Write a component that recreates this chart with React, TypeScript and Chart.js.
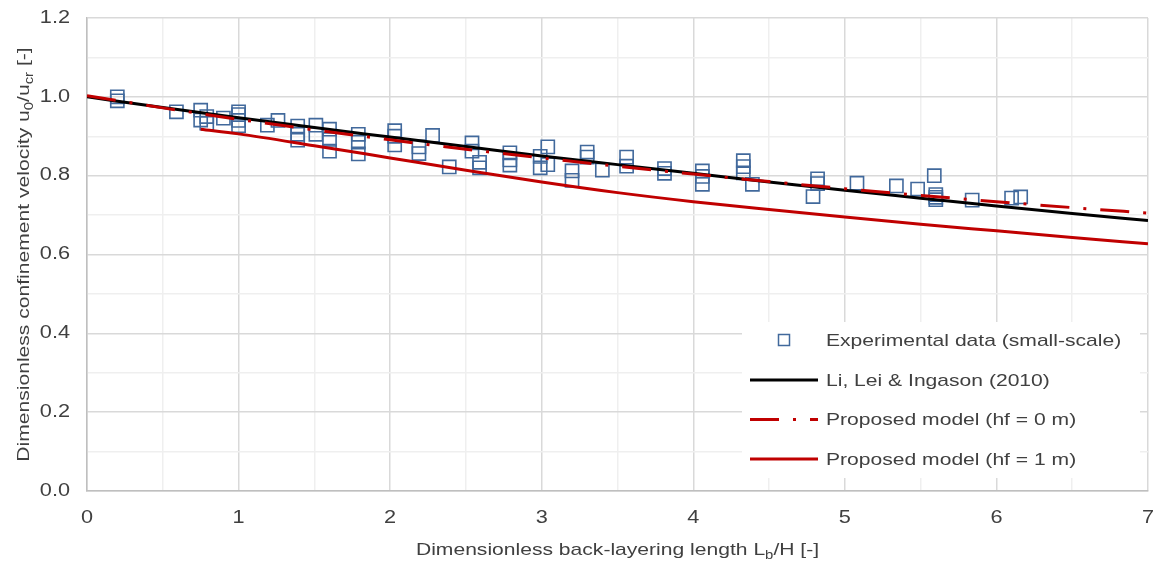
import React, { useEffect, useRef } from "react";
import { Chart, registerables } from "chart.js";

Chart.register(...registerables);

// Experimental data (small-scale): back-layering length L_b/H and confinement velocity u0/ucr
const expX = [
  0.2, 0.2, 0.59, 0.75, 0.75, 0.79, 0.79, 0.9, 1.0, 1.0, 1.0, 1.0,
  1.19, 1.26, 1.39, 1.39, 1.39, 1.51, 1.51, 1.6, 1.6, 1.6, 1.79, 1.79, 1.79,
  2.03, 2.03, 2.03, 2.19, 2.19, 2.28, 2.39, 2.54, 2.54, 2.59, 2.59,
  2.79, 2.79, 2.79, 2.99, 2.99, 3.04, 3.04, 3.2, 3.2, 3.3, 3.3, 3.4,
  3.56, 3.56, 3.81, 3.81, 4.06, 4.06, 4.06, 4.33, 4.33, 4.33, 4.39,
  4.79, 4.82, 4.82, 5.08, 5.34, 5.48, 5.59, 5.6, 5.6, 5.6, 5.84, 6.1, 6.16,
];
const expY = [
  1.0, 0.99, 0.962, 0.966, 0.941, 0.95, 0.933, 0.946, 0.962, 0.955, 0.94, 0.927,
  0.928, 0.94, 0.926, 0.905, 0.89, 0.928, 0.905, 0.918, 0.892, 0.862, 0.905, 0.885, 0.855,
  0.914, 0.9, 0.878, 0.873, 0.856, 0.902, 0.822, 0.883, 0.862, 0.834, 0.82,
  0.858, 0.84, 0.827, 0.849, 0.82, 0.873, 0.828, 0.812, 0.788, 0.86, 0.847, 0.814,
  0.847, 0.824, 0.818, 0.806, 0.812, 0.798, 0.778, 0.838, 0.823, 0.807, 0.778,
  0.747, 0.792, 0.78, 0.781, 0.774, 0.766, 0.8, 0.752, 0.745, 0.739, 0.738, 0.743, 0.746,
];

// Model curves, sampled along L_b/H
const modelX = [0, 0.5, 1, 1.5, 2, 2.5, 3, 3.5, 4, 4.5, 5, 5.5, 6, 6.5, 7];
const liLeiIngason = [1.0, 0.973, 0.947, 0.922, 0.898, 0.874, 0.85, 0.828, 0.806, 0.784, 0.763, 0.743, 0.723, 0.704, 0.686];
const proposedHf0 = [1.003, 0.972, 0.943, 0.916, 0.891, 0.867, 0.845, 0.824, 0.804, 0.785, 0.767, 0.75, 0.734, 0.719, 0.705];

const hf1X = [0.75, 1, 1.5, 2, 2.5, 3, 3.5, 4, 4.5, 5, 5.5, 6, 6.5, 7];
const proposedHf1 = [0.918, 0.906, 0.876, 0.845, 0.814, 0.784, 0.757, 0.734, 0.714, 0.695, 0.677, 0.66, 0.643, 0.627];

// Axis tick labels
const xTickLabels = ["0", "1", "2", "3", "4", "5", "6", "7"];
const yTickLabels = ["0.0", "0.2", "0.4", "0.6", "0.8", "1.0", "1.2"];

const legendLabels = [
  "Experimental data (small-scale)",
  "Li, Lei & Ingason (2010)",
  "Proposed model (hf = 0 m)",
  "Proposed model (hf = 1 m)",
];

const FONT = "'Liberation Sans', Arial, sans-serif";
const TEXT = "#404040";
const BLUE = "#41699c";
const RED = "#c00000";
const DASH_DOT = [29, 14, 3, 14];
const SIZE = 17;
const SUB = 12;
const SX = 1.24; // horizontal stretch of the lettering

type Seg = { t: string; sub?: boolean };

function segWidth(ctx: CanvasRenderingContext2D, segs: Seg[]) {
  let w = 0;
  for (const s of segs) {
    ctx.font = `${s.sub ? SUB : SIZE}px ${FONT}`;
    w += ctx.measureText(s.t).width;
  }
  return w;
}

// Draws text runs with subscripts in a frame already scaled by SX
function drawSegs(ctx: CanvasRenderingContext2D, segs: Seg[], x: number, y: number) {
  let cx = x;
  ctx.textBaseline = "alphabetic";
  ctx.textAlign = "left";
  for (const s of segs) {
    ctx.font = `${s.sub ? SUB : SIZE}px ${FONT}`;
    ctx.fillText(s.t, cx, s.sub ? y + 4 : y);
    cx += ctx.measureText(s.t).width;
  }
}

function stretchedText(
  ctx: CanvasRenderingContext2D,
  text: string,
  x: number,
  y: number,
  align: CanvasTextAlign,
  size = SIZE
) {
  ctx.save();
  ctx.translate(x, y);
  ctx.scale(SX, 1);
  ctx.font = `${size}px ${FONT}`;
  ctx.textAlign = align;
  ctx.textBaseline = "middle";
  ctx.fillText(text, 0, 0);
  ctx.restore();
}

const yTitle: Seg[] = [
  { t: "Dimensionless confinement velocity u" },
  { t: "0", sub: true },
  { t: "/u" },
  { t: "cr", sub: true },
  { t: " [-]" },
];
const xTitle: Seg[] = [
  { t: "Dimensionless back-layering length L" },
  { t: "b", sub: true },
  { t: "/H [-]" },
];

const decorations = {
  id: "decorations",
  afterDraw(chart: any) {
    const { ctx, chartArea, scales } = chart;
    ctx.save();
    ctx.fillStyle = TEXT;

    // tick labels
    xTickLabels.forEach((l) => {
      stretchedText(ctx, l, scales.x.getPixelForValue(Number(l)), 518, "center", 17.5);
    });
    yTickLabels.forEach((l) => {
      stretchedText(ctx, l, 70, scales.y.getPixelForValue(Number(l)), "right", 17.5);
    });

    // axis titles
    const wx = segWidth(ctx, xTitle) * SX;
    ctx.save();
    ctx.translate((chartArea.left + chartArea.right) / 2 - wx / 2, 555);
    ctx.scale(SX, 1);
    drawSegs(ctx, xTitle, 0, 0);
    ctx.restore();

    const wy = segWidth(ctx, yTitle) * SX;
    ctx.save();
    ctx.translate(29, (chartArea.top + chartArea.bottom) / 2);
    ctx.rotate(-Math.PI / 2);
    ctx.translate(-wy / 2, 0);
    ctx.scale(SX, 1);
    drawSegs(ctx, yTitle, 0, 0);
    ctx.restore();

    // legend
    ctx.fillStyle = "#ffffff";
    ctx.fillRect(742, 322, 398, 156);
    const rows = [340, 380, 419.5, 459];
    const x0 = 750;
    const x1 = 818;
    ctx.strokeStyle = BLUE;
    ctx.lineWidth = 1.5;
    ctx.strokeRect(784 - 5.5, rows[0] - 5.5, 11, 11);
    const lineRow = (y: number, color: string, dash: number[]) => {
      ctx.beginPath();
      ctx.setLineDash(dash);
      ctx.strokeStyle = color;
      ctx.lineWidth = 3;
      ctx.moveTo(x0, y);
      ctx.lineTo(x1, y);
      ctx.stroke();
      ctx.setLineDash([]);
    };
    lineRow(rows[1], "#000000", []);
    lineRow(rows[2], RED, DASH_DOT);
    lineRow(rows[3], RED, []);

    ctx.fillStyle = TEXT;
    legendLabels.forEach((l, i) => stretchedText(ctx, l, 826, rows[i] + 1, "left"));
    ctx.restore();
  },
};

export default function App() {
  const ref = useRef<HTMLCanvasElement | null>(null);

  useEffect(() => {
    if (!ref.current) return;
    const pts = (xs: number[], ys: number[]) => xs.map((x, i) => ({ x, y: ys[i] }));
    const isMajorY = (v: number) => Math.round(v * 10) % 2 === 0;
    const isMajorX = (v: number) => Math.abs(v - Math.round(v)) < 1e-6;

    const chart = new Chart(ref.current, {
      type: "scatter",
      data: {
        datasets: [
          {
            label: legendLabels[3],
            data: pts(hf1X, proposedHf1),
            showLine: true,
            borderColor: RED,
            borderWidth: 3,
            pointRadius: 0,
            cubicInterpolationMode: "monotone",
            order: 1,
          } as any,
          {
            label: legendLabels[2],
            data: pts(modelX, proposedHf0),
            showLine: true,
            borderColor: RED,
            borderWidth: 3,
            borderDash: DASH_DOT,
            pointRadius: 0,
            cubicInterpolationMode: "monotone",
            order: 2,
          },
          {
            label: legendLabels[1],
            data: pts(modelX, liLeiIngason),
            showLine: true,
            borderColor: "#000000",
            borderWidth: 3,
            pointRadius: 0,
            cubicInterpolationMode: "monotone",
            order: 3,
          },
          {
            label: legendLabels[0],
            data: pts(expX, expY),
            showLine: false,
            pointStyle: "rect",
            pointRadius: 9.3,
            borderColor: BLUE,
            backgroundColor: "rgba(0,0,0,0)",
            borderWidth: 1.6,
            order: 4,
          },
        ],
      },
      options: {
        animation: false,
        responsive: false,
        maintainAspectRatio: false,
        layout: { padding: { top: 18, right: 12, left: 0, bottom: 0 } },
        plugins: {
          legend: { display: false },
          tooltip: { enabled: false },
        },
        scales: {
          x: {
            type: "linear",
            min: 0,
            max: 7,
            afterFit: (s: any) => {
              s.height = 71;
            },
            ticks: { stepSize: 0.5, autoSkip: false, display: false },
            grid: {
              drawTicks: false,
              lineWidth: 1.5,
              color: (c: any) => (isMajorX(c.tick.value) ? "#d9d9d9" : "#efefef"),
            },
            border: { color: "#bfbfbf", width: 1.5 },
          },
          y: {
            type: "linear",
            min: 0,
            max: 1.2,
            afterFit: (s: any) => {
              s.width = 87;
            },
            ticks: { stepSize: 0.1, autoSkip: false, display: false },
            grid: {
              drawTicks: false,
              lineWidth: 1.5,
              color: (c: any) => (isMajorY(c.tick.value) ? "#d9d9d9" : "#efefef"),
            },
            border: { color: "#bfbfbf", width: 1.5 },
          },
        },
      },
      plugins: [decorations],
    });
    return () => chart.destroy();
  }, []);

  return (
    <div style={{ position: "fixed", left: 0, top: 0, width: 1160, height: 562, background: "#ffffff" }}>
      <canvas ref={ref} width={1160} height={562} style={{ display: "block" }} />
    </div>
  );
}
